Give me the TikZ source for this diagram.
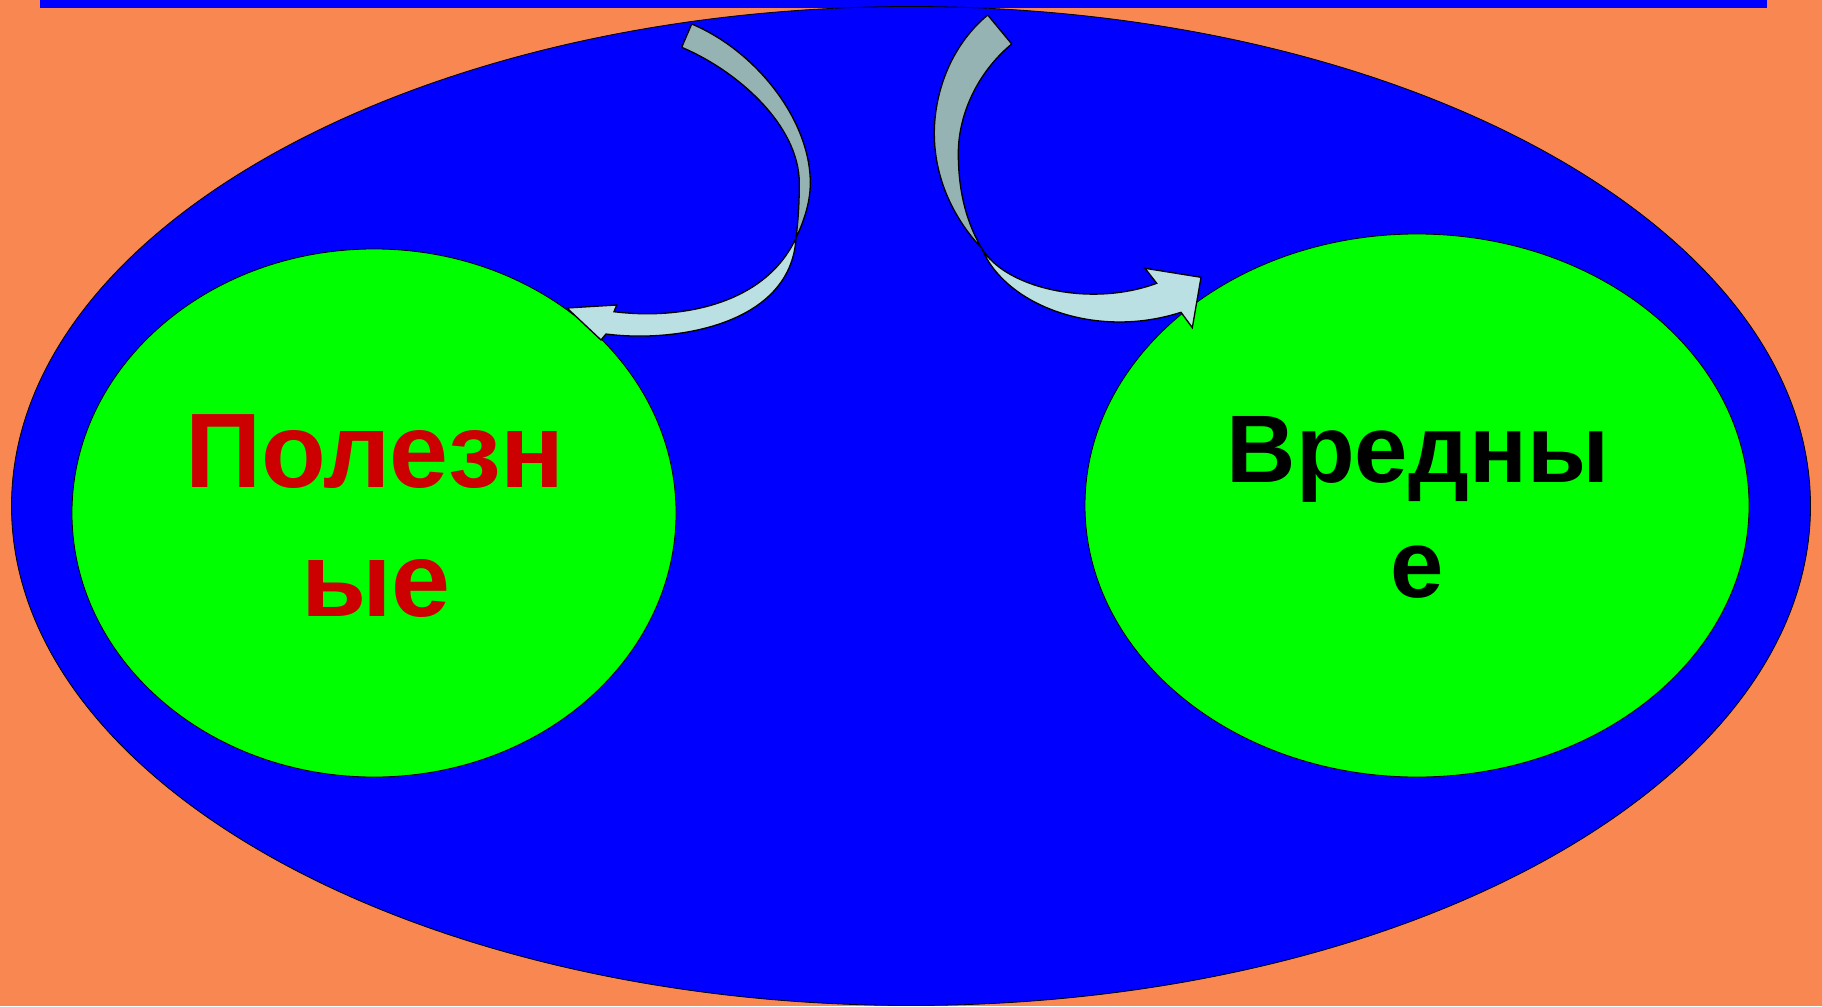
\documentclass[tikz,border=0pt]{standalone}
\usepackage{fontspec}
\setmainfont{Liberation Sans}
\usetikzlibrary{shapes.geometric}
\definecolor{bgorange}{HTML}{F88752}
\definecolor{bigblue}{HTML}{0000FF}
\definecolor{leafgreen}{HTML}{00FF00}
\definecolor{textred}{HTML}{CC0000}
\definecolor{backband}{HTML}{96B3B3}
\definecolor{frontband}{HTML}{BBE0E3}
\tikzset{
  oval/.style={ellipse, draw=black, line width=0.8pt, inner sep=0pt},
  bandback/.style={fill=backband, draw=black, line width=1.3pt, line join=round},
  bandfront/.style={fill=frontband, draw=black, line width=1.3pt, line join=miter},
  bigword/.style={inner sep=0pt, anchor=base, font=\fontsize{106}{127}\selectfont\bfseries, text=textred},
  midword/.style={inner sep=0pt, anchor=base, font=\fontsize{96}{115}\selectfont\bfseries, text=black}
}
\begin{document}
\begin{tikzpicture}[x=1pt,y=-1pt]
\fill[bgorange] (0,0) rectangle (1822,1006);
\useasboundingbox (0,0) rectangle (1822,1006);
\fill[bigblue] (40,0) rectangle (1767,8);
\node[oval, fill=bigblue, minimum width=1799pt, minimum height=999pt] (world) at (911,506) {};
\node[oval, fill=leafgreen, minimum width=604pt, minimum height=528pt] (good) at (374,513) {};
\node[oval, fill=leafgreen, minimum width=664pt, minimum height=543pt] (bad) at (1417,505.5) {};
\node[bigword] (g1) at (375,487) {Полезн};
\node[bigword] (g2) at (376,616) {ые};
\node[midword] (b1) at (1418,482) {Вредны};
\node[midword] (b2) at (1417,597) {е};
% left curved arrow
\draw[bandback] (691.7,24) .. controls (756,51) and (810.3,120) .. (810.3,183)
  .. controls (810.3,205) and (802,225) .. (796,238)
  .. controls (798,222) and (799.3,205) .. (799.3,183.3)
  .. controls (799.3,125) and (737,70.7) .. (681.7,47.3) -- cycle;
\draw[bandfront] (796,238) .. controls (765,305) and (680,320) .. (614,311.7)
  -- (616.7,305) -- (567,308) -- (601,340) -- (606,334)
  .. controls (675,343) and (791,325) .. (796,238) -- cycle;
% right curved arrow
\draw[bandback] (987.7,15) .. controls (949.2,47) and (934.3,95) .. (934.3,133.3)
  .. controls (934.3,180) and (955,220) .. (981.7,248.3)
  .. controls (968,225) and (958.3,195) .. (958.3,153.3)
  .. controls (958.3,115) and (977,72.8) .. (1011.7,44) -- cycle;
\draw[bandfront] (981.7,248.3) .. controls (1005,288) and (1090,308) .. (1156.7,283.3)
  -- (1145,268.3) -- (1201,277.3) -- (1192.3,327.7) -- (1181,312.3)
  .. controls (1095,340) and (1005,305) .. (981.7,248.3) -- cycle;
\end{tikzpicture}
\end{document}
